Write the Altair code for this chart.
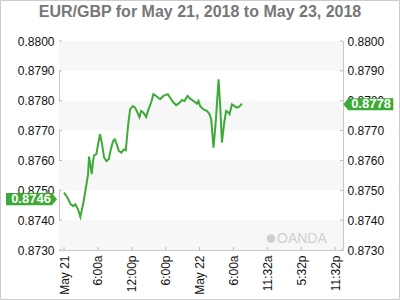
import altair as alt
import pandas as pd

# ---- data (hours since May 21 00:00, EUR/GBP rate) ----
hours = [0.0, 0.59, 1.19, 1.60, 2.00, 2.48, 2.89, 3.37, 3.78, 4.26, 4.43, 4.66, 4.91, 5.14,
         5.32, 5.73, 6.03, 6.38, 6.74, 7.09, 7.50, 7.93, 8.28, 8.69, 8.99, 9.34, 9.70, 10.16,
         10.59, 10.94, 11.12, 11.40, 11.70, 12.18, 12.59, 13.00, 13.35, 13.65, 14.06, 14.54,
         14.95, 15.43, 15.83, 16.31, 17.02, 17.61, 18.39, 18.79, 19.38, 19.86, 20.34, 20.87,
         21.33, 21.86, 22.34, 22.93, 23.53, 23.81, 24.11, 24.70, 25.30, 25.76, 26.06, 26.47,
         26.90, 27.36, 27.66, 27.96, 28.37, 28.72, 29.13, 29.31, 29.73, 30.20, 30.62, 31.03,
         31.51]
values = [0.87492, 0.87476, 0.87453, 0.87447, 0.87453, 0.87436, 0.87411, 0.87453, 0.87498,
          0.87554, 0.87613, 0.87587, 0.87554, 0.87598, 0.87617, 0.87621, 0.87654, 0.87688,
          0.87654, 0.87610, 0.87598, 0.87604, 0.87637, 0.87665, 0.87671, 0.87654, 0.87632,
          0.87626, 0.87637, 0.87634, 0.87671, 0.87727, 0.87771, 0.87782, 0.87777, 0.87760,
          0.87745, 0.87766, 0.87760, 0.87745, 0.87771, 0.87794, 0.87822, 0.87816, 0.87805,
          0.87816, 0.87822, 0.87810, 0.87794, 0.87785, 0.87791, 0.87802, 0.87799, 0.87816,
          0.87807, 0.87799, 0.87790, 0.87799, 0.87782, 0.87771, 0.87766, 0.87755, 0.87738,
          0.87643, 0.87738, 0.87872, 0.87782, 0.87660, 0.87727, 0.87766, 0.87760, 0.87755,
          0.87788, 0.87782, 0.87777, 0.87780, 0.87790]

y_ticks = [0.8730, 0.8740, 0.8750, 0.8760, 0.8770, 0.8780, 0.8790, 0.8800]
band_lo = [0.8730, 0.8750, 0.8770, 0.8790]
band_hi = [0.8740, 0.8760, 0.8780, 0.8800]
x_ticks = [0, 6, 12, 18, 24, 30, 36, 42, 48]
x_labels = ["May 21", "6:00a", "12:00p", "6:00p", "May 22", "6:00a", "11:32a", "5:32p", "11:32p"]

open_label = "0.8746"
open_pos = 0.87470
last_label = "0.8778"
last_pos = 0.87788

title = "EUR/GBP for May 21, 2018 to May 23, 2018"

# ---- styling ----
W, H = 284, 209
GREEN = "#3daa36"
FONT = "Liberation Sans"

df = pd.DataFrame({"h": hours, "v": values})
yscale = alt.Scale(domain=[0.873, 0.880], nice=False, zero=False)
xscale = alt.Scale(domain=[-0.89, 49.4], nice=False, zero=False)
label_expr = "[" + ",".join(f"'{s}'" for s in x_labels) + "][round(datum.value/6)]"
x_axis = alt.Axis(values=x_ticks, labelExpr=label_expr, labelAngle=-90,
                  title=None, labelPadding=5)

one = pd.DataFrame({"a": [0]})

bands = alt.Chart(pd.DataFrame({"lo": band_lo, "hi": band_hi})).mark_rect(
    color="#f7f7f7"
).encode(
    x=alt.value(0), x2=alt.value(W),
    y=alt.Y("lo:Q", scale=yscale,
            axis=alt.Axis(orient="left", values=y_ticks, format=".4f", title=None,
                          labelPadding=5)),
    y2="hi:Q",
)

line = alt.Chart(df).mark_line(color=GREEN, strokeWidth=2).encode(
    x=alt.X("h:Q", scale=xscale, axis=x_axis),
    y=alt.Y("v:Q", scale=yscale,
            axis=alt.Axis(orient="right", values=y_ticks, format=".4f", title=None,
                          labelPadding=4)),
)

tick_df = pd.DataFrame({"t": y_ticks})
ytick_l = alt.Chart(tick_df).mark_rule(color="#bbbbbb").encode(
    y=alt.Y("t:Q", scale=yscale, axis=None), x=alt.value(0), x2=alt.value(3))
ytick_r = alt.Chart(tick_df).mark_rule(color="#bbbbbb").encode(
    y=alt.Y("t:Q", scale=yscale, axis=None), x=alt.value(W - 3), x2=alt.value(W))
xtick = alt.Chart(pd.DataFrame({"h": x_ticks})).mark_rule(color="#bbbbbb").encode(
    x=alt.X("h:Q", scale=xscale, axis=x_axis), y=alt.value(H - 3), y2=alt.value(H))

left_path = "M -1 -0.24 L 0.8 -0.24 L 1 0 L 0.8 0.24 L -1 0.24 Z"
right_path = "M -1 0 L -0.8 -0.24 L 1 -0.24 L 1 0.24 L -0.8 0.24 Z"

ltag_df = pd.DataFrame({"v": [open_pos], "t": [open_label]})
rtag_df = pd.DataFrame({"v": [last_pos], "t": [last_label]})

ltag = alt.Chart(ltag_df).mark_point(
    shape=left_path, filled=True, size=51 * 51, color=GREEN, opacity=1, strokeWidth=0
).encode(x=alt.value(-27.5), y=alt.Y("v:Q", scale=yscale, axis=None))
ltext = alt.Chart(ltag_df).mark_text(
    font=FONT, fontWeight="bold", fontSize=13, color="white", baseline="middle", align="center"
).encode(x=alt.value(-28), y=alt.Y("v:Q", scale=yscale, axis=None), text="t:N")

rtag = alt.Chart(rtag_df).mark_point(
    shape=right_path, filled=True, size=50 * 50, color=GREEN, opacity=1, strokeWidth=0
).encode(x=alt.value(309.3), y=alt.Y("v:Q", scale=yscale, axis=None))
rtext = alt.Chart(rtag_df).mark_text(
    font=FONT, fontWeight="bold", fontSize=13, color="white", baseline="middle", align="center"
).encode(x=alt.value(312), y=alt.Y("v:Q", scale=yscale, axis=None), text="t:N")

wm_text = alt.Chart(pd.DataFrame({"t": ["OANDA"]})).mark_text(
    font=FONT, fontSize=14, color="#cfcfcf", align="left", baseline="middle"
).encode(x=alt.value(218), y=alt.value(197.5), text="t:N")
wm_logo = alt.Chart(one).mark_point(
    shape="circle", filled=True, size=75, color="#cfcfcf", opacity=1
).encode(x=alt.value(212), y=alt.value(197.5))

title_mark = alt.Chart(pd.DataFrame({"t": [title]})).mark_text(
    font=FONT, fontSize=16, fontWeight="bold", color="#777777", align="center",
    baseline="alphabetic"
).encode(x=alt.value(141), y=alt.value(-24), text="t:N")

border = alt.Chart(one).mark_rect(
    fillOpacity=0, stroke="#cccccc", strokeWidth=1
).encode(x=alt.value(-58.5), x2=alt.value(340.5), y=alt.value(-40.5), y2=alt.value(258.5))

chart = alt.layer(
    bands, line, ytick_l, ytick_r, xtick, wm_logo, wm_text, ltag, ltext, rtag, rtext,
    title_mark, border
).resolve_axis(y="independent").resolve_scale(y="shared").properties(
    width=W, height=H,
    padding={"left": 59, "top": 41, "right": 57, "bottom": 50},
    autosize=alt.AutoSizeParams(type="none"),
).configure_view(stroke="#c8c8c8", strokeWidth=1).configure_axis(
    labelFont=FONT, labelFontSize=12, labelColor="#111111", ticks=False, domain=False, grid=False
)

chart.save("out.html", embed_options={"renderer": "svg", "actions": False})
